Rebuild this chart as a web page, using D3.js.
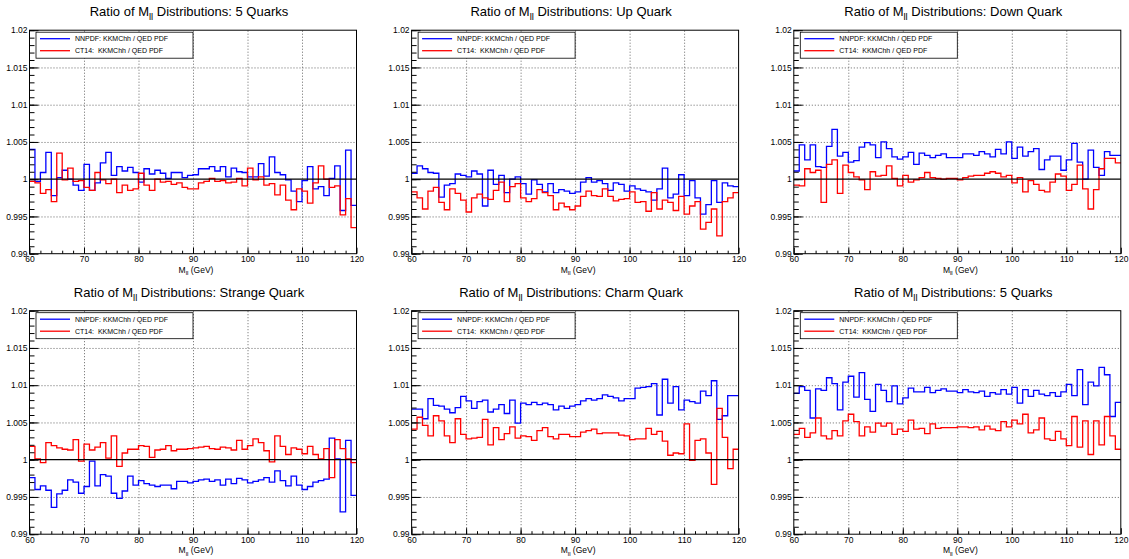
<!DOCTYPE html>
<html>
<head>
<meta charset="utf-8">
<script src="https://cdn.jsdelivr.net/npm/d3@7"></script>
<style>
	body { margin: 0; background: #fff; }
	svg { font-family: "Liberation Sans", Arial, Helvetica, sans-serif; }
	text { white-space: pre; }
</style>
</head>
<body>
<div id="chart"></div>
<script>
// bin low edges, 1 GeV bins from 60 to 120
const massEdges = d3.range(60, 121, 1);
const xMajorTicks = [60, 70, 80, 90, 100, 110, 120];
const yMajorTicks = [0.99, 0.995, 1, 1.005, 1.01, 1.015, 1.02];
const yTickLabels = ['0.99', '0.995', '1', '1.005', '1.01', '1.015', '1.02'];
const panelTitles = ['5 Quarks', 'Up Quark', 'Down Quark', 'Strange Quark', 'Charm Quark', '5 Quarks'];
const legendLabels = ['NNPDF: KKMChh / QED PDF', 'CT14:  KKMChh / QED PDF'];

const quarks5Nnpdf = [1.0040, 0.9997, 1.0009, 1.0036, 0.9978, 1.0002, 1.0012, 1.0000, 0.9992, 0.9985,
	1.0020, 0.9985, 0.9995, 1.0022, 1.0036, 1.0005, 1.0017, 1.0011, 1.0016, 1.0009,
	0.9996, 1.0014, 1.0007, 1.0012, 1.0008, 1.0001, 1.0009, 1.0009, 1.0002, 1.0005,
	1.0006, 1.0014, 1.0014, 1.0017, 1.0011, 1.0017, 1.0003, 1.0015, 1.0010, 1.0009,
	1.0003, 1.0003, 1.0021, 1.0004, 1.0030, 1.0009, 1.0006, 0.9999, 0.9984, 0.9970,
	0.9998, 1.0017, 0.9987, 0.9990, 0.9978, 1.0001, 1.0018, 0.9958, 1.0039, 0.9965];
const quarks5Ct14 = [0.9997, 0.9995, 0.9981, 0.9986, 0.9970, 1.0035, 0.9999, 1.0015, 0.9997, 0.9998,
	0.9989, 0.9985, 1.0009, 0.9999, 0.9994, 1.0000, 0.9982, 0.9992, 0.9985, 0.9987,
	1.0008, 0.9992, 0.9985, 1.0000, 0.9996, 0.9997, 0.9993, 0.9995, 0.9989, 0.9987,
	0.9987, 0.9995, 0.9997, 1.0001, 0.9997, 0.9998, 0.9995, 0.9996, 1.0001, 0.9991,
	1.0015, 0.9999, 1.0003, 0.9992, 0.9994, 0.9979, 0.9992, 0.9972, 0.9959, 0.9987,
	0.9984, 0.9968, 0.9995, 1.0018, 1.0000, 0.9989, 0.9991, 0.9952, 0.9974, 0.9935];

const upNnpdf = [1.0008, 1.0018, 1.0014, 1.0009, 1.0008, 0.9976, 0.9992, 0.9994, 1.0007, 1.0005,
	1.0003, 1.0011, 1.0007, 0.9964, 1.0012, 0.9993, 1.0005, 0.9982, 1.0000, 1.0003,
	0.9994, 0.9980, 0.9999, 0.9993, 0.9983, 0.9994, 0.9982, 0.9986, 0.9984, 0.9981,
	0.9983, 0.9996, 1.0002, 0.9996, 0.9998, 0.9994, 0.9985, 0.9995, 0.9993, 0.9984,
	0.9991, 0.9987, 0.9985, 0.9983, 0.9972, 0.9987, 1.0015, 0.9975, 0.9980, 1.0006,
	0.9978, 0.9998, 0.9975, 0.9953, 0.9966, 0.9998, 0.9969, 0.9995, 0.9991, 0.9990];
const upCt14 = [0.9983, 0.9975, 0.9960, 0.9984, 0.9989, 0.9969, 0.9959, 0.9987, 0.9981, 0.9972,
	0.9956, 0.9975, 0.9980, 0.9975, 0.9973, 0.9985, 0.9996, 0.9970, 0.9990, 0.9994,
	0.9975, 0.9970, 0.9974, 0.9986, 0.9982, 0.9978, 0.9959, 0.9968, 0.9963, 0.9959,
	0.9964, 0.9977, 0.9984, 0.9978, 0.9977, 0.9987, 0.9977, 0.9971, 0.9973, 0.9974,
	0.9983, 0.9969, 0.9970, 0.9957, 0.9982, 0.9960, 0.9972, 0.9969, 0.9958, 0.9977,
	0.9953, 0.9964, 0.9970, 0.9933, 0.9942, 0.9960, 0.9924, 0.9970, 0.9975, 0.9982];

const downNnpdf = [1.0011, 1.0046, 1.0026, 1.0046, 1.0017, 1.0016, 1.0044, 1.0067, 1.0031, 1.0036,
	1.0023, 1.0025, 1.0043, 1.0049, 1.0046, 1.0029, 1.0050, 1.0041, 1.0030, 1.0027,
	1.0030, 1.0036, 1.0020, 1.0035, 1.0032, 1.0029, 1.0032, 1.0034, 1.0029, 1.0029,
	1.0029, 1.0034, 1.0034, 1.0032, 1.0037, 1.0034, 1.0030, 1.0040, 1.0034, 1.0050,
	1.0028, 1.0043, 1.0031, 1.0037, 1.0041, 1.0013, 1.0026, 1.0031, 1.0031, 1.0012,
	1.0026, 1.0048, 1.0023, 1.0000, 1.0039, 1.0016, 1.0005, 1.0037, 1.0032, 1.0032];
const downCt14 = [0.9992, 0.9991, 1.0014, 1.0009, 1.0012, 0.9969, 1.0020, 1.0026, 0.9981, 1.0019,
	1.0009, 1.0003, 0.9999, 0.9986, 1.0010, 1.0004, 1.0005, 1.0018, 1.0001, 0.9991,
	1.0005, 0.9996, 0.9999, 1.0002, 1.0009, 1.0002, 1.0001, 1.0000, 1.0001, 1.0001,
	0.9999, 1.0002, 1.0004, 1.0005, 1.0005, 1.0008, 1.0010, 1.0008, 1.0003, 1.0005,
	0.9995, 1.0002, 0.9983, 0.9998, 0.9993, 0.9985, 0.9983, 0.9996, 1.0007, 1.0004,
	0.9985, 0.9993, 1.0019, 0.9987, 0.9960, 0.9986, 1.0014, 1.0028, 1.0028, 1.0022];

const strangeNnpdf = [0.9976, 0.9960, 0.9965, 0.9959, 0.9936, 0.9954, 0.9959, 0.9973, 0.9970, 0.9955,
	0.9964, 0.9998, 0.9965, 0.9980, 0.9978, 0.9955, 0.9948, 0.9958, 0.9978, 0.9966,
	0.9972, 0.9968, 0.9966, 0.9964, 0.9966, 0.9966, 0.9961, 0.9971, 0.9971, 0.9969,
	0.9971, 0.9973, 0.9974, 0.9971, 0.9973, 0.9966, 0.9974, 0.9968, 0.9975, 0.9973,
	0.9969, 0.9971, 0.9973, 0.9976, 0.9970, 0.9985, 0.9972, 0.9965, 0.9978, 0.9966,
	0.9960, 0.9964, 0.9970, 0.9972, 0.9974, 1.0029, 1.0001, 0.9930, 1.0026, 0.9952];
const strangeCt14 = [1.0018, 1.0001, 0.9996, 1.0023, 1.0019, 1.0016, 1.0014, 1.0013, 1.0027, 0.9998,
	1.0021, 1.0013, 1.0017, 1.0023, 1.0002, 1.0032, 0.9991, 1.0009, 1.0014, 1.0014,
	1.0019, 1.0018, 1.0003, 1.0013, 1.0014, 1.0019, 1.0012, 1.0014, 1.0014, 1.0015,
	1.0016, 1.0017, 1.0018, 1.0015, 1.0014, 1.0017, 1.0016, 1.0013, 1.0026, 1.0014,
	1.0019, 1.0028, 1.0023, 1.0012, 0.9997, 1.0032, 1.0018, 1.0007, 1.0016, 1.0014,
	1.0008, 1.0018, 1.0007, 1.0001, 1.0015, 0.9976, 1.0027, 1.0015, 1.0001, 0.9996];

const charmNnpdf = [1.0068, 1.0068, 1.0055, 1.0082, 1.0073, 1.0072, 1.0068, 1.0063, 1.0070, 1.0085,
	1.0079, 1.0069, 1.0078, 1.0080, 1.0064, 1.0068, 1.0074, 1.0062, 1.0080, 1.0049,
	1.0076, 1.0074, 1.0077, 1.0074, 1.0076, 1.0074, 1.0067, 1.0072, 1.0069, 1.0072,
	1.0074, 1.0079, 1.0082, 1.0080, 1.0082, 1.0087, 1.0085, 1.0083, 1.0079, 1.0082,
	1.0082, 1.0096, 1.0097, 1.0098, 1.0102, 1.0060, 1.0108, 1.0076, 1.0098, 1.0067,
	1.0080, 1.0078, 1.0076, 1.0092, 1.0086, 1.0106, 1.0054, 1.0059, 1.0086, 1.0086];
const charmCt14 = [1.0041, 1.0057, 1.0046, 1.0032, 1.0059, 1.0052, 1.0032, 1.0023, 1.0055, 1.0034,
	1.0028, 1.0029, 1.0030, 1.0054, 1.0020, 1.0043, 1.0027, 1.0035, 1.0044, 1.0029,
	1.0032, 1.0031, 1.0026, 1.0039, 1.0043, 1.0031, 1.0028, 1.0034, 1.0034, 1.0031,
	1.0031, 1.0037, 1.0039, 1.0041, 1.0035, 1.0036, 1.0036, 1.0036, 1.0033, 1.0032,
	1.0027, 1.0028, 1.0028, 1.0042, 1.0034, 1.0038, 1.0025, 1.0006, 1.0009, 1.0008,
	1.0048, 0.9999, 1.0026, 1.0028, 1.0009, 0.9967, 1.0069, 1.0030, 0.9988, 1.0014];

const quarks5bNnpdf = [1.0089, 1.0098, 1.0093, 1.0056, 1.0095, 1.0093, 1.0110, 1.0102, 1.0067, 1.0104,
	1.0112, 1.0084, 1.0117, 1.0081, 1.0065, 1.0101, 1.0093, 1.0078, 1.0099, 1.0075,
	1.0083, 1.0096, 1.0091, 1.0091, 1.0097, 1.0090, 1.0093, 1.0095, 1.0092, 1.0092,
	1.0090, 1.0094, 1.0091, 1.0090, 1.0092, 1.0085, 1.0090, 1.0088, 1.0094, 1.0088,
	1.0097, 1.0076, 1.0094, 1.0085, 1.0093, 1.0088, 1.0086, 1.0090, 1.0085, 1.0091,
	1.0101, 1.0086, 1.0121, 1.0074, 1.0104, 1.0099, 1.0124, 1.0114, 1.0058, 1.0077];
const quarks5bCt14 = [1.0034, 1.0042, 1.0030, 1.0036, 1.0056, 1.0032, 1.0028, 1.0039, 1.0032, 1.0052,
	1.0061, 1.0051, 1.0032, 1.0044, 1.0037, 1.0049, 1.0045, 1.0049, 1.0034, 1.0041,
	1.0038, 1.0053, 1.0041, 1.0042, 1.0035, 1.0048, 1.0042, 1.0043, 1.0043, 1.0043,
	1.0044, 1.0044, 1.0043, 1.0044, 1.0040, 1.0045, 1.0041, 1.0039, 1.0051, 1.0044,
	1.0053, 1.0048, 1.0061, 1.0036, 1.0040, 1.0056, 1.0028, 1.0026, 1.0038, 1.0028,
	1.0019, 1.0058, 1.0017, 1.0052, 1.0007, 1.0052, 1.0020, 1.0058, 1.0032, 1.0014];

const nnpdfSeries = [quarks5Nnpdf, upNnpdf, downNnpdf, strangeNnpdf, charmNnpdf, quarks5bNnpdf];
const ct14Series = [quarks5Ct14, upCt14, downCt14, strangeCt14, charmCt14, quarks5bCt14];

// layout
const width = 1129;
const height = 559;
const frameLeft = [29.5, 411.6, 793.8];
const frameTop = [30.2, 310.7];
const frameW = 327;
const frameH = 223.5;
const fontSize = 8.5;

const svg = d3.select('#chart').append('svg')
	.attr('width', width)
	.attr('height', height);

// turn a list of bin contents into step points (with closing edge at 120)
function stepPoints(values) {
	return massEdges.map((e, i) => ({ x: e, v: values[Math.min(i, values.length - 1)] }));
}

// "M" with subscript "ll"
function addMll(text, before, after, size) {
	if (before) text.append('tspan').text(before);
	text.append('tspan').text('M');
	text.append('tspan').attr('dy', size * 0.3).style('font-size', (size * 0.72) + 'px').text('ll');
	text.append('tspan').attr('dy', -size * 0.3).text(after);
}

panelTitles.forEach((title, i) => {
	const col = i % 3;
	const row = Math.floor(i / 3);

	const g = svg.append('g')
		.attr('transform', `translate(${frameLeft[col]}, ${frameTop[row]})`);

	const x = d3.scaleLinear().domain([60, 120]).range([0, frameW]);
	const y = d3.scaleLinear().domain([0.99, 1.02]).range([frameH, 0]);

	// dotted grid
	const gridX = g.append('g')
		.attr('transform', `translate(0, ${frameH})`)
		.call(d3.axisBottom(x).tickValues(xMajorTicks.slice(1, -1)).tickSize(-frameH).tickFormat(''));
	const gridY = g.append('g')
		.call(d3.axisLeft(y).tickValues([0.995, 1.005, 1.01, 1.015]).tickSize(-frameW).tickFormat(''));
	[gridX, gridY].forEach(gr => {
		gr.select('.domain').remove();
		gr.selectAll('line')
			.attr('stroke', '#666')
			.attr('stroke-width', 1)
			.attr('stroke-dasharray', '1,2');
	});

	// histograms
	const line = d3.line()
		.x(d => x(d.x))
		.y(d => y(d.v))
		.curve(d3.curveStepAfter);

	g.append('path')
		.attr('d', line(stepPoints(nnpdfSeries[i])))
		.style('fill', 'none')
		.style('stroke', '#0000ff')
		.style('stroke-width', 1.3);
	g.append('path')
		.attr('d', line(stepPoints(ct14Series[i])))
		.style('fill', 'none')
		.style('stroke', '#ff0000')
		.style('stroke-width', 1.3);

	// reference line at unity
	g.append('line')
		.attr('x1', 0)
		.attr('x2', frameW)
		.attr('y1', y(1))
		.attr('y2', y(1))
		.style('stroke', '#000')
		.style('stroke-width', 1.2);

	// axes, ticks pointing into the frame
	const xAxisMinor = g.append('g')
		.attr('transform', `translate(0, ${frameH})`)
		.call(d3.axisBottom(x).tickValues(d3.range(62, 120, 2)).tickSize(-3).tickFormat(''));
	const xAxis = g.append('g')
		.attr('transform', `translate(0, ${frameH})`)
		.call(d3.axisBottom(x).tickValues(xMajorTicks).tickSize(-6).tickPadding(2.5).tickFormat(d3.format('d')));
	const yAxisMinor = g.append('g')
		.call(d3.axisLeft(y).tickValues(d3.range(0, 31).map(k => 0.99 + k * 0.001)).tickSize(-5).tickFormat(''));
	const yAxis = g.append('g')
		.call(d3.axisLeft(y).tickValues(yMajorTicks).tickSize(-9).tickPadding(2)
			.tickFormat((d, k) => yTickLabels[k]));
	[xAxisMinor, xAxis, yAxisMinor, yAxis].forEach(ax => {
		ax.select('.domain').remove();
		ax.selectAll('line').attr('stroke', '#000');
		ax.selectAll('text')
			.style('font-family', '"Liberation Sans", Arial, sans-serif')
			.style('font-size', fontSize + 'px')
			.attr('fill', '#000');
	});

	// frame
	g.append('rect')
		.attr('width', frameW)
		.attr('height', frameH)
		.style('fill', 'none')
		.style('stroke', '#000')
		.style('stroke-width', 1);

	// x axis title
	const xTitle = g.append('text')
		.attr('x', frameW / 2 + 3)
		.attr('y', frameH + 19)
		.style('font-size', fontSize + 'px')
		.style('text-anchor', 'middle');
	addMll(xTitle, '', ' (GeV)', fontSize);

	// panel title
	const t = g.append('text')
		.attr('x', frameW / 2 - 4)
		.attr('y', -14)
		.style('font-size', '13px')
		.style('text-anchor', 'middle');
	addMll(t, 'Ratio of ', ' Distributions: ' + title, 13);

	// legend
	const lg = g.append('g').attr('transform', 'translate(6.5, 2)');
	lg.append('rect')
		.attr('width', 157)
		.attr('height', 26)
		.style('fill', '#fff')
		.style('stroke', '#000')
		.style('stroke-width', 0.8);
	['#0000ff', '#ff0000'].forEach((c, k) => {
		lg.append('line')
			.attr('x1', 4)
			.attr('x2', 34)
			.attr('y1', 6.5 + k * 12)
			.attr('y2', 6.5 + k * 12)
			.style('stroke', c)
			.style('stroke-width', 1.3);
		lg.append('text')
			.attr('x', 39)
			.attr('y', 9 + k * 12)
			.style('font-size', '7px')
			.text(legendLabels[k]);
	});
});
</script>
</body>
</html>
